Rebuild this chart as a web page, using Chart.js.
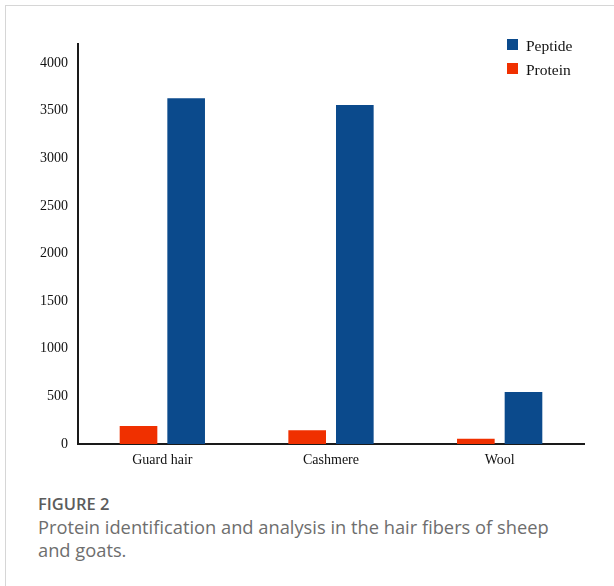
<!DOCTYPE html>
<html>
<head>
<meta charset="utf-8">
<script src="https://cdn.jsdelivr.net/npm/chart.js@4.4.1/dist/chart.umd.min.js"></script>
<style>
  html, body { margin: 0; padding: 0; background: #fff; }
  body { width: 614px; height: 586px; position: relative; overflow: hidden; }
  #frame {
    position: absolute; left: 5px; top: 5px; width: 620px; height: 600px;
    border-top: 1.5px solid #d6d6d6; border-left: 1.5px solid #d6d6d6;
  }
  #chartBox { position: absolute; left: 0; top: 0; width: 614px; height: 480px; }
  .leg { position: absolute; font-family: "Liberation Serif", serif; font-size: 15.5px; color: #111; line-height: 15px; }
  .leg i { position: absolute; left: -19px; top: 1px; width: 11px; height: 11px; }
  #caption { position: absolute; left: 38px; top: 493px; width: 525px; font-family: "Open Sans", Lato, sans-serif; color: #6e6e6e; }
  #caption b { display: block; font-size: 16.5px; font-weight: 600; color: #5c5c5c; line-height: 22px; }
  #caption span { display: block; font-size: 18.3px; font-weight: 400; line-height: 23px; }
</style>
</head>
<body>
<div id="frame"></div>
<div id="chartBox"><canvas id="hairChart"></canvas></div>
<div id="legend"></div>
<div id="caption">
  <b>FIGURE 2</b>
  <span>Protein identification and analysis in the hair fibers of sheep and goats.</span>
</div>
<script>
const categories = ["Guard hair", "Cashmere", "Wool"];
const protein_counts = [190, 145, 55];
const peptide_counts = [3630, 3560, 545];
const y_ticks = [0, 500, 1000, 1500, 2000, 2500, 3000, 3500, 4000];

const blue = "rgb(11, 74, 140)";
const red = "rgb(240, 48, 0)";

Chart.defaults.font.family = '"Liberation Serif", "Times New Roman", serif';
Chart.defaults.color = "#111";

const ctx = document.getElementById("hairChart").getContext("2d");
const hairChart = new Chart(ctx, {
  type: "bar",
  data: {
    labels: categories,
    datasets: [
      { label: "Protein", data: protein_counts, backgroundColor: red },
      { label: "Peptide", data: peptide_counts, backgroundColor: blue },
    ],
  },
  options: {
    responsive: true,
    maintainAspectRatio: false,
    animation: false,
    datasets: { bar: { categoryPercentage: 0.565, barPercentage: 0.79 } },
    layout: { padding: { left: 28, right: 30, top: 44, bottom: 6 } },
    plugins: { legend: { display: false }, tooltip: { enabled: false } },
    scales: {
      x: {
        grid: { display: false, drawTicks: false },
        border: { color: "#1a1a1a", width: 2 },
        ticks: { font: { size: 14 }, padding: 8 },
        afterFit: (scale) => { scale.height = 30; },
      },
      y: {
        min: 0,
        max: 4200,
        grid: { display: false, drawTicks: false },
        border: { color: "#1a1a1a", width: 2 },
        ticks: { font: { size: 14 }, padding: 10, callback: (v) => String(v) },
        afterBuildTicks: (scale) => {
          scale.ticks = y_ticks.map((v) => ({ value: v }));
        },
        afterFit: (scale) => { scale.width = 50; },
      },
    },
  },
});

// legend in the top-right corner, Peptide first
const legendItems = [
  { label: "Peptide", color: blue },
  { label: "Protein", color: red },
];
const legendBox = document.getElementById("legend");
legendItems.forEach((item, i) => {
  const el = document.createElement("div");
  el.className = "leg";
  el.style.left = "526px";
  el.style.top = 38 + i * 24 + "px";
  el.innerHTML = `<i style="background:${item.color}"></i>${item.label}`;
  legendBox.appendChild(el);
});
</script>
</body>
</html>
